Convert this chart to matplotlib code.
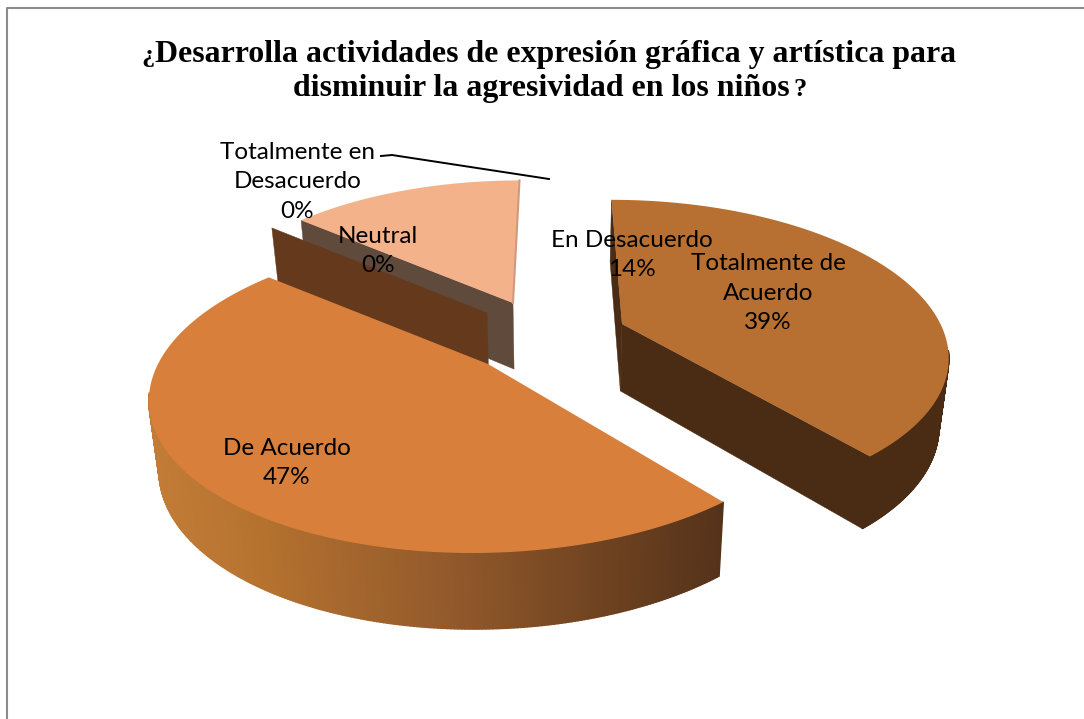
import matplotlib
matplotlib.use('Agg')
import matplotlib.pyplot as plt
import numpy as np

title_lines = ["Desarrolla actividades de expresión gráfica y artística para",
               "disminuir la agresividad en los niños"]
categories = ['Totalmente de\nAcuerdo', 'De Acuerdo', 'Totalmente en\nDesacuerdo', 'Neutral', 'En Desacuerdo']
values = [39, 47, 0, 0, 14]

top_colors = ['#b76f32', '#d8803b', '#65391b', '#65391b', '#f4b28b']
# where each exploded slice has its tip, in pixels, and its radius factor
tips = [(622, 324), (488, 364), (487, 313), (487, 313), (513, 303)]
radius = [0.965, 1.0, 0.98, 0.98, 0.95]
label_pos = [(768, 293), (287, 463), (297.5, 182), (378, 251), (632, 255)]

W, H = 1084, 719
RX, RY = 330, 152.6   # pie radius on screen
PERSP = 0.1925
VX = 555              # vanishing x


def project(tip, rad, ang):
    # ang is clockwise from the top of the pie, degrees
    a = np.radians(ang)
    u, v = np.sin(a) * rad, -np.cos(a) * rad
    s = 1 / (1 - PERSP * v)
    x = VX + (tip[0] + RX * u - VX) * s
    y = tip[1] + RY * v * s
    return x, y


def lower(x, y):
    return VX + (x - VX) * 0.975, y + 67 + (y - 325) * 0.04


def mix(stops, x):
    xs = [p[0] for p in stops]
    rgb = np.array([matplotlib.colors.to_rgb(p[1]) for p in stops])
    return tuple(np.interp(x, xs, rgb[:, i]) for i in range(3))


fig = plt.figure(figsize=(W / 100, H / 100), dpi=100)
ax = fig.add_axes([0, 0, 1, 1])
ax.set_xlim(0, W)
ax.set_ylim(H, 0)
ax.axis('off')

# chart frame
ax.plot([6.5, 6.5, 1084], [719, 7.5, 7.5], color='#8c8c8c', lw=1.5)

edges = np.cumsum([0] + values) / sum(values) * 360


def cut_wall(i, ang, color, z):
    tx, ty = tips[i]
    rx, ry = project(tips[i], radius[i], ang)
    bx0, by0 = lower(tx, ty)
    bx1, by1 = lower(rx, ry)
    ax.fill([tx, rx, bx1, bx0], [ty, ry, by1, by0], color=color, lw=0.3, zorder=z)


def rim_wall(i, a0, a1, z, flat=None, stops=None):
    angs = np.linspace(a0, a1, 240)
    for p, q in zip(angs[:-1], angs[1:]):
        x0, y0 = project(tips[i], radius[i], p)
        x1, y1 = project(tips[i], radius[i], q)
        bx0, by0 = lower(x0, y0)
        bx1, by1 = lower(x1, y1)
        c = flat if flat else mix(stops, (x0 + x1) / 2)
        ax.fill([x0, x1, bx1, bx0], [y0, y1, by1, by0], color=c, lw=1.0, zorder=z)


def top_face(i, z):
    angs = np.linspace(edges[i], edges[i + 1], 150)
    pts = [project(tips[i], radius[i], a) for a in angs]
    xs = [tips[i][0]] + [p[0] for p in pts]
    ys = [tips[i][1]] + [p[1] for p in pts]
    ax.fill(xs, ys, color=top_colors[i], lw=0, zorder=z)


# En Desacuerdo
cut_wall(4, edges[4], '#5f4a3b', 2)
top_face(4, 3)
rx, ry = project(tips[4], radius[4], 360)
ax.plot([tips[4][0], rx], [tips[4][1], ry], color='#cf9a7c', lw=1.5, zorder=3)

# zero slices only show their wall
cut_wall(2, edges[2], top_colors[2], 4)

# Totalmente de Acuerdo
cut_wall(0, edges[0], '#4a2b13', 5)
rim_wall(0, 100, edges[1], 5, flat='#4a2b13')
cut_wall(0, edges[1], '#4a2b13', 5)
top_face(0, 6)

# De Acuerdo
grad = [(150, '#c27c37'), (260, '#b5722f'), (450, '#92592b'), (600, '#6f4320'), (725, '#54321a')]
rim_wall(1, edges[1], edges[2] - 50, 7, stops=grad)
top_face(1, 8)

# leader line
ax.plot([381, 392, 549], [156, 155, 179], color='black', lw=1.4, zorder=9)

for i, name in enumerate(categories):
    ax.text(label_pos[i][0], label_pos[i][1], '%s\n%d%%' % (name, values[i]), ha='center', va='center',
            family='Lato', fontsize=17.5, linespacing=1.52, color='black', zorder=10)


def title_text(x, y, s, size, ha):
    return ax.text(x, y, s, ha=ha, va='baseline', family='Liberation Serif', fontweight='bold',
                   fontsize=size, color='black', zorder=10)


# the question marks are a size smaller than the words
title_text(556, 62, title_lines[0], 22.95, 'center')
title_text(155, 62, '¿', 19, 'right')
title_text(541.5, 96, title_lines[1], 22.95, 'center')
title_text(793, 96, '?', 19, 'left')

fig.savefig('out.png', dpi=100)
